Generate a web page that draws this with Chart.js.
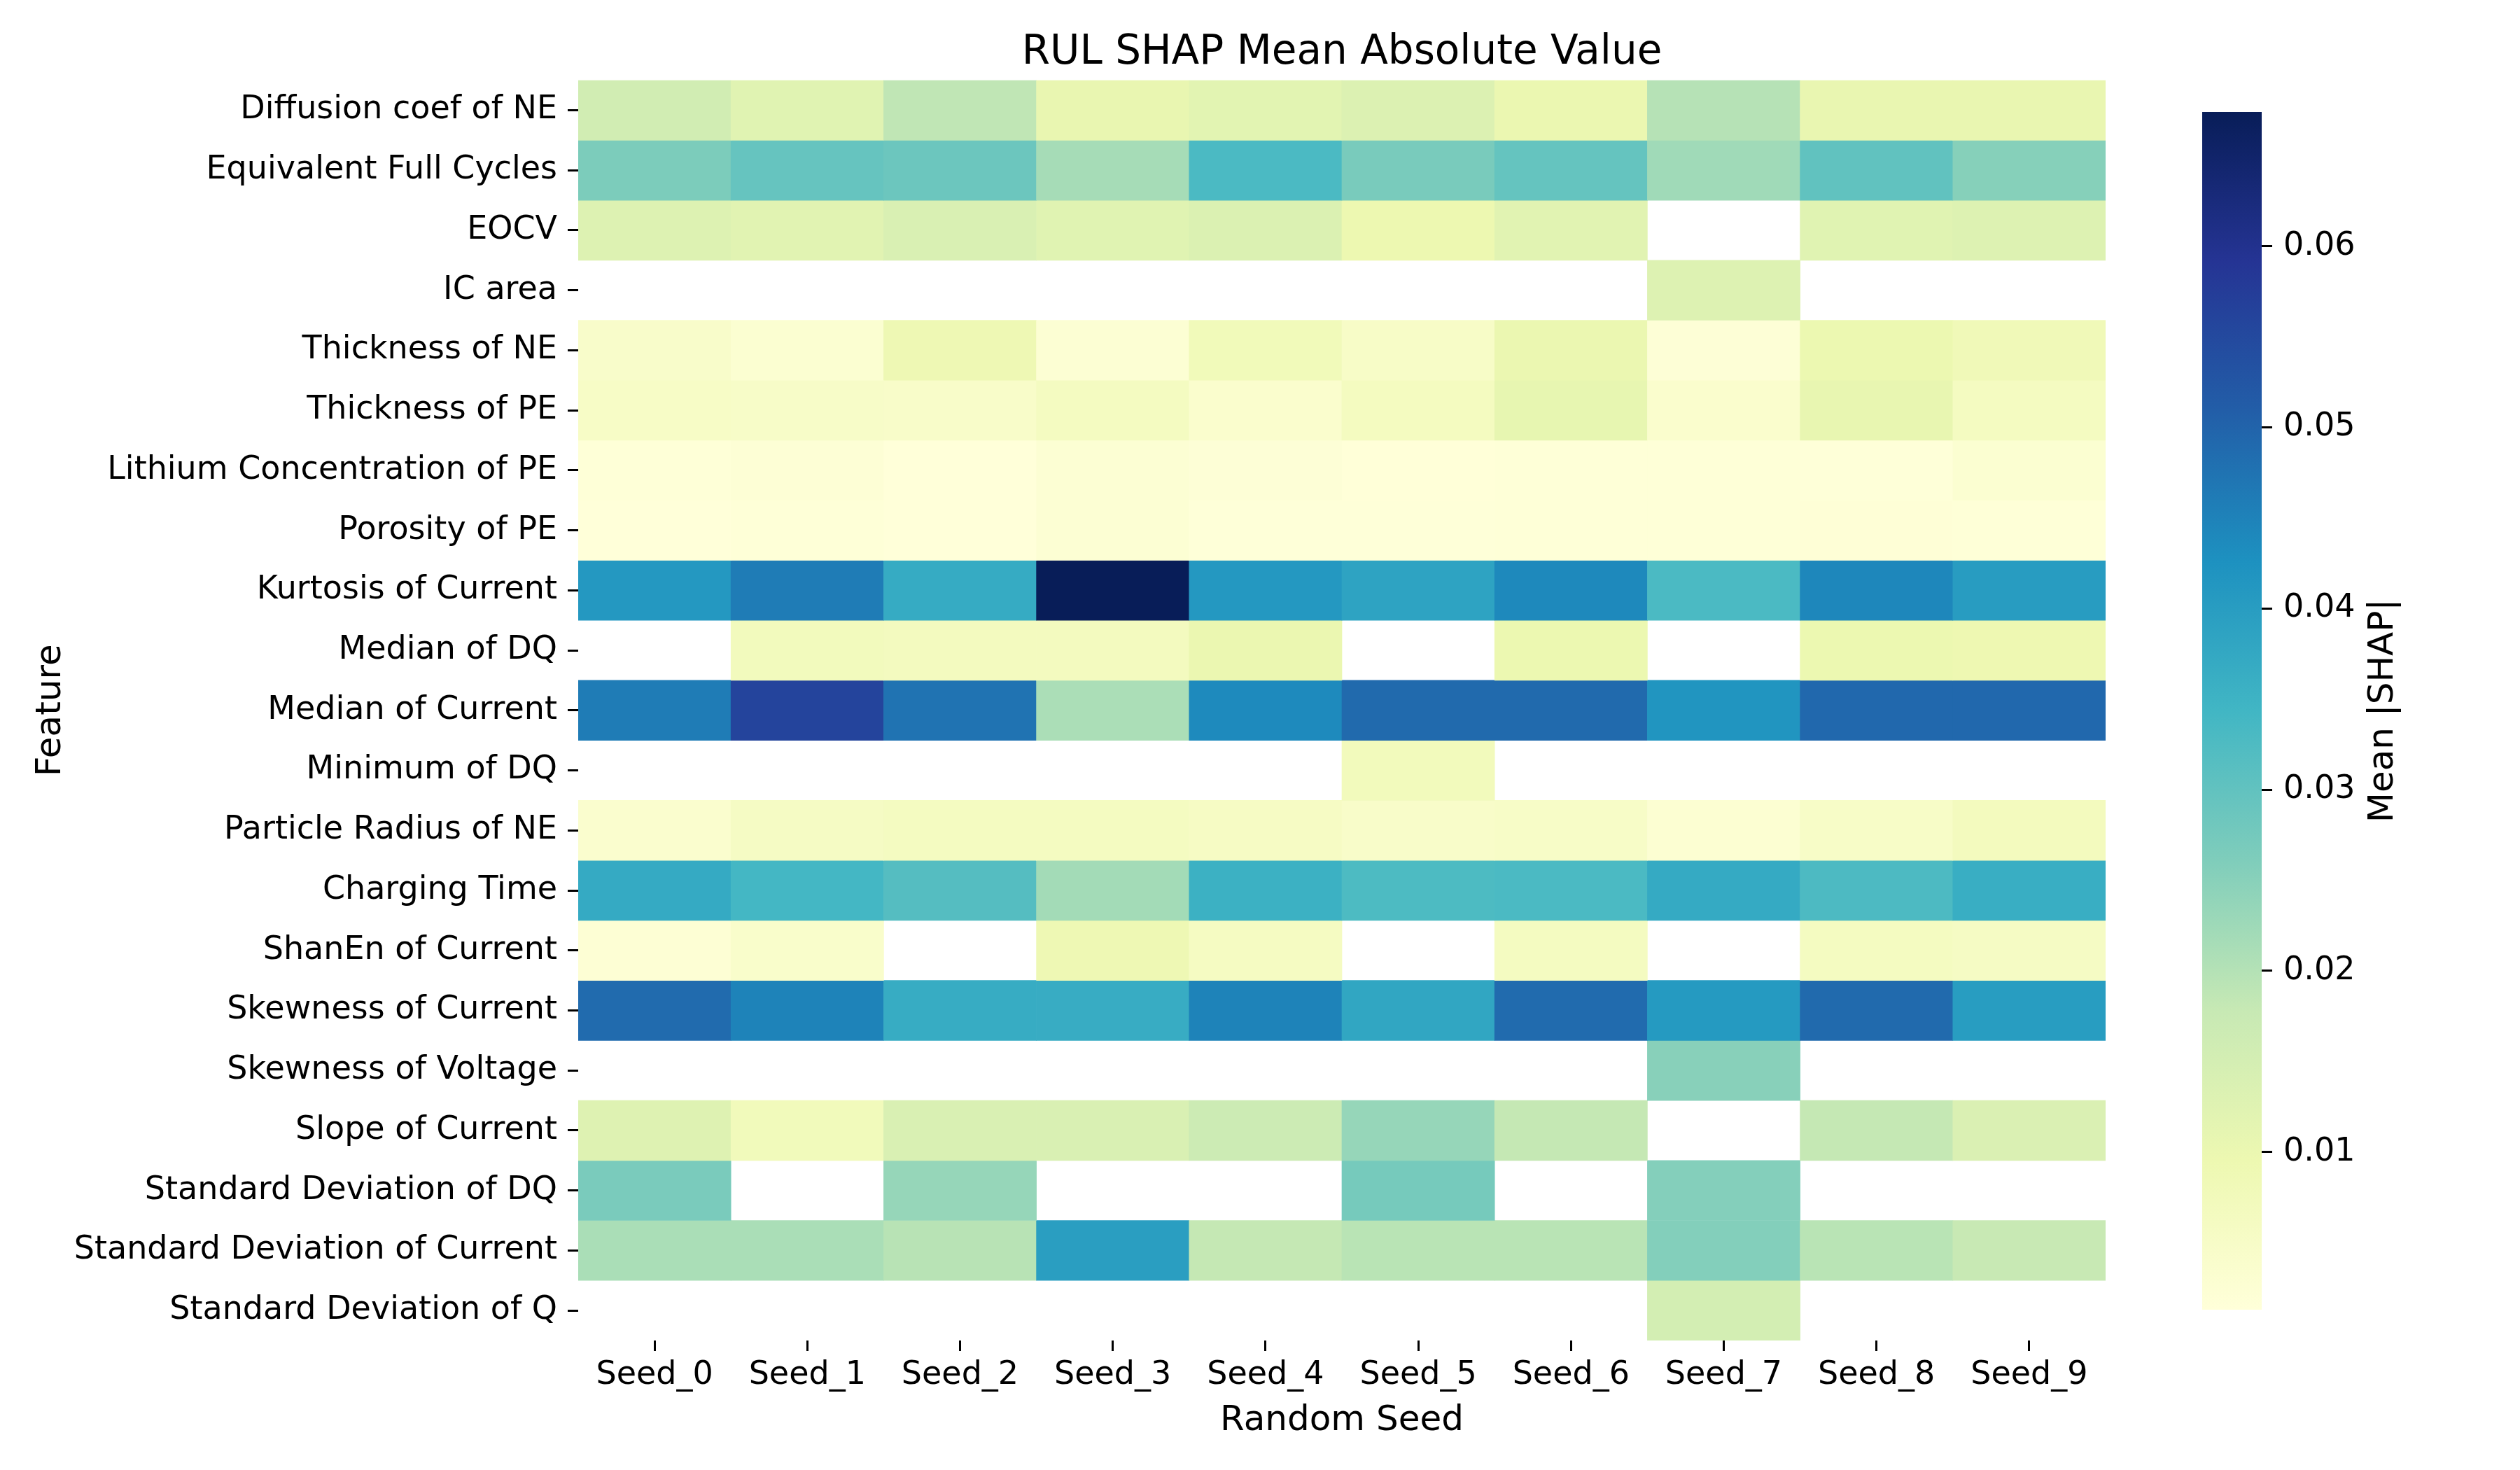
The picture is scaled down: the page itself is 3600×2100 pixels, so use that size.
<!DOCTYPE html>
<html>
<head>
<meta charset="utf-8">
<script src="https://cdn.jsdelivr.net/npm/chart.js@4.4.1/dist/chart.umd.min.js"></script>
<style>
  html, body { margin: 0; padding: 0; background: #fff; }
  #wrap { position: relative; width: 3600px; height: 2100px; }
  #heat { position: absolute; left: 0; top: 0; }
  #cbar { position: absolute; left: 3040px; top: 0; }
</style>
</head>
<body>
<div id="wrap">
  <canvas id="heat" width="3600" height="2100"></canvas>
  <canvas id="cbar" width="560" height="2100"></canvas>
</div>
<script>
// Seeds (columns) and features (rows)
const SEEDS = ['Seed_0', 'Seed_1', 'Seed_2', 'Seed_3', 'Seed_4', 'Seed_5', 'Seed_6', 'Seed_7', 'Seed_8', 'Seed_9'];
const FEATURES = [
  'Diffusion coef of NE', 'Equivalent Full Cycles', 'EOCV', 'IC area', 'Thickness of NE',
  'Thickness of PE', 'Lithium Concentration of PE', 'Porosity of PE', 'Kurtosis of Current',
  'Median of DQ', 'Median of Current', 'Minimum of DQ', 'Particle Radius of NE', 'Charging Time',
  'ShanEn of Current', 'Skewness of Current', 'Skewness of Voltage', 'Slope of Current',
  'Standard Deviation of DQ', 'Standard Deviation of Current', 'Standard Deviation of Q'
];

// mean |SHAP| per seed, null = feature not selected
const diffusionNE   = [0.0157, 0.0124, 0.0186, 0.0104, 0.0120, 0.0133, 0.0100, 0.0198, 0.0104, 0.0104];
const equivCycles   = [0.0265, 0.0294, 0.0286, 0.0216, 0.0330, 0.0269, 0.0295, 0.0223, 0.0301, 0.0253];
const eocv          = [0.0131, 0.0122, 0.0139, 0.0123, 0.0135, 0.0096, 0.0122, null, 0.0123, 0.0131];
const icArea        = [null, null, null, null, null, null, null, 0.0131, null, null];
const thicknessNE   = [0.0044, 0.0030, 0.0090, 0.0026, 0.0077, 0.0050, 0.0100, 0.0020, 0.0097, 0.0081];
const thicknessPE   = [0.0052, 0.0048, 0.0046, 0.0063, 0.0038, 0.0064, 0.0109, 0.0038, 0.0106, 0.0062];
const lithiumPE     = [0.0017, 0.0021, 0.0014, 0.0026, 0.0020, 0.0015, 0.0017, 0.0017, 0.0016, 0.0030];
const porosityPE    = [0.0014, 0.0017, 0.0013, 0.0025, 0.0016, 0.0016, 0.0017, 0.0018, 0.0019, 0.0017];
const kurtosisCur   = [0.0410, 0.0460, 0.0368, 0.0674, 0.0410, 0.0386, 0.0439, 0.0330, 0.0443, 0.0402];
const medianDQ      = [null, 0.0071, 0.0067, 0.0067, 0.0100, null, 0.0097, null, 0.0097, 0.0093];
const medianCur     = [0.0460, 0.0559, 0.0475, 0.0210, 0.0438, 0.0490, 0.0490, 0.0418, 0.0492, 0.0492];
const minimumDQ     = [null, null, null, null, null, 0.0073, null, null, null, null];
const radiusNE      = [0.0036, 0.0057, 0.0063, 0.0063, 0.0056, 0.0046, 0.0050, 0.0028, 0.0051, 0.0069];
const chargingTime  = [0.0371, 0.0340, 0.0317, 0.0219, 0.0355, 0.0327, 0.0330, 0.0371, 0.0328, 0.0362];
const shanEnCur     = [0.0024, 0.0042, null, 0.0090, 0.0061, null, 0.0063, null, 0.0063, 0.0057];
const skewCur       = [0.0488, 0.0449, 0.0366, 0.0365, 0.0449, 0.0380, 0.0488, 0.0407, 0.0490, 0.0400];
const skewVolt      = [null, null, null, null, null, null, null, 0.0251, null, null];
const slopeCur      = [0.0129, 0.0075, 0.0139, 0.0139, 0.0168, 0.0235, 0.0180, null, 0.0180, 0.0137];
const stdDQ         = [0.0267, null, 0.0235, null, null, 0.0273, null, 0.0255, null, null];
const stdCur        = [0.0212, 0.0211, 0.0195, 0.0396, 0.0181, 0.0194, 0.0194, 0.0256, 0.0194, 0.0176];
const stdQ          = [null, null, null, null, null, null, null, 0.0153, null, null];

const ROWS = [diffusionNE, equivCycles, eocv, icArea, thicknessNE, thicknessPE, lithiumPE, porosityPE,
  kurtosisCur, medianDQ, medianCur, minimumDQ, radiusNE, chargingTime, shanEnCur, skewCur, skewVolt,
  slopeCur, stdDQ, stdCur, stdQ];

const CBAR_TICKS = [0.01, 0.02, 0.03, 0.04, 0.05, 0.06];

// YlGnBu
const YLGNBU = ['#ffffd9', '#edf8b1', '#c7e9b4', '#7fcdbb', '#41b6c4', '#1d91c0', '#225ea8', '#253494', '#081d58'];

const allVals = ROWS.flat().filter(v => v !== null);
const VMIN = Math.min(...allVals);
const VMAX = Math.max(...allVals);

function hexToRgb(h) {
  return [parseInt(h.slice(1, 3), 16), parseInt(h.slice(3, 5), 16), parseInt(h.slice(5, 7), 16)];
}
const STOP_RGB = YLGNBU.map(hexToRgb);

function cmap(v) {
  let t = (v - VMIN) / (VMAX - VMIN);
  t = Math.max(0, Math.min(1, t));
  const pos = t * (STOP_RGB.length - 1);
  const i = Math.min(Math.floor(pos), STOP_RGB.length - 2);
  const f = pos - i;
  const a = STOP_RGB[i], b = STOP_RGB[i + 1];
  const c = a.map((x, k) => Math.round(x + (b[k] - x) * f));
  return `rgb(${c[0]}, ${c[1]}, ${c[2]})`;
}

Chart.defaults.font.family = '"DejaVu Sans", sans-serif';
Chart.defaults.color = '#000';

const TICK_FONT = { size: 46 };
const LABEL_FONT = { size: 50 };

// one dataset per feature row, each cell is a floating bar [row, row + 1]
const heatDatasets = ROWS.map((vals, r) => ({
  label: FEATURES[r],
  data: vals.map(v => (v === null ? null : [r, r + 1])),
  backgroundColor: vals.map(v => (v === null ? 'rgba(0,0,0,0)' : cmap(v))),
  borderWidth: 0,
  grouped: false,
  barPercentage: 1,
  categoryPercentage: 1
}));

new Chart(document.getElementById('heat'), {
  type: 'bar',
  data: { labels: SEEDS, datasets: heatDatasets },
  options: {
    responsive: false,
    devicePixelRatio: 1,
    animation: false,
    layout: { padding: { left: 0, right: 592, top: 0, bottom: 0 } },
    plugins: {
      legend: { display: false },
      tooltip: { enabled: false },
      title: {
        display: true,
        text: 'RUL SHAP Mean Absolute Value',
        fullSize: false,
        color: '#000',
        font: { size: 58, weight: 'normal' },
        padding: { top: 41, bottom: 4 }
      }
    },
    scales: {
      x: {
        type: 'category',
        offset: true,
        border: { display: false },
        grid: { offset: false, drawOnChartArea: false, tickLength: 15, tickColor: '#000', tickWidth: 3 },
        ticks: { font: TICK_FONT, color: '#000', padding: 7, maxRotation: 0, autoSkip: false },
        title: { display: true, text: 'Random Seed', color: '#000', font: LABEL_FONT, padding: { top: 0, bottom: 40 } },
        afterFit: s => { s.height = 185; }
      },
      y: {
        type: 'linear',
        min: 0,
        max: FEATURES.length,
        reverse: true,
        border: { display: false },
        grid: { drawOnChartArea: false, tickLength: 15, tickColor: '#000', tickWidth: 3 },
        afterBuildTicks: s => { s.ticks = FEATURES.map((f, i) => ({ value: i + 0.5 })); },
        ticks: {
          font: TICK_FONT,
          color: '#000',
          padding: 15,
          autoSkip: false,
          callback: v => FEATURES[Math.floor(v)]
        },
        title: { display: true, text: 'Feature', color: '#000', font: LABEL_FONT, padding: { top: 43, bottom: 0 } },
        afterFit: s => { s.width = 826; }
      }
    }
  }
});

// gradient for the colorbar, built once the scale has its pixels
let cbarGradient = null;
const cbarGradientPlugin = {
  id: 'cbarGradient',
  afterLayout(chart) {
    const y = chart.scales.y;
    const y0 = y.getPixelForValue(VMIN);
    const y1 = y.getPixelForValue(VMAX);
    if (!isFinite(y0) || !isFinite(y1)) return;
    cbarGradient = chart.ctx.createLinearGradient(0, y0, 0, y1);
    YLGNBU.forEach((c, i) => cbarGradient.addColorStop(i / (YLGNBU.length - 1), c));
  }
};

// colorbar label, rotated like matplotlib
const cbarLabel = {
  id: 'cbarLabel',
  afterDraw(chart) {
    const { ctx, chartArea } = chart;
    ctx.save();
    ctx.translate(365, (chartArea.top + chartArea.bottom) / 2);
    ctx.rotate(-Math.PI / 2);
    ctx.font = '50px "DejaVu Sans"';
    ctx.fillStyle = '#000';
    ctx.textAlign = 'center';
    ctx.textBaseline = 'middle';
    ctx.fillText('Mean |SHAP|', 0, 0);
    ctx.restore();
  }
};

new Chart(document.getElementById('cbar'), {
  type: 'bar',
  data: {
    labels: [''],
    datasets: [{
      data: [[VMIN, VMAX]],
      borderWidth: 0,
      barPercentage: 1,
      categoryPercentage: 1,
      backgroundColor: () => cbarGradient || YLGNBU[4]
    }]
  },
  options: {
    responsive: false,
    devicePixelRatio: 1,
    animation: false,
    layout: { padding: { left: 106, right: 0, top: 160, bottom: 229 } },
    plugins: { legend: { display: false }, tooltip: { enabled: false } },
    scales: {
      x: { display: false },
      y: {
        position: 'right',
        min: VMIN,
        max: VMAX,
        border: { display: false },
        grid: { drawOnChartArea: false, tickLength: 15, tickColor: '#000', tickWidth: 3 },
        afterBuildTicks: s => { s.ticks = CBAR_TICKS.map(v => ({ value: v })); },
        ticks: { font: TICK_FONT, color: '#000', padding: 16, callback: v => v.toFixed(2) },
        afterFit: s => { s.width = 369; }
      }
    }
  },
  plugins: [cbarGradientPlugin, cbarLabel]
});
</script>
</body>
</html>
